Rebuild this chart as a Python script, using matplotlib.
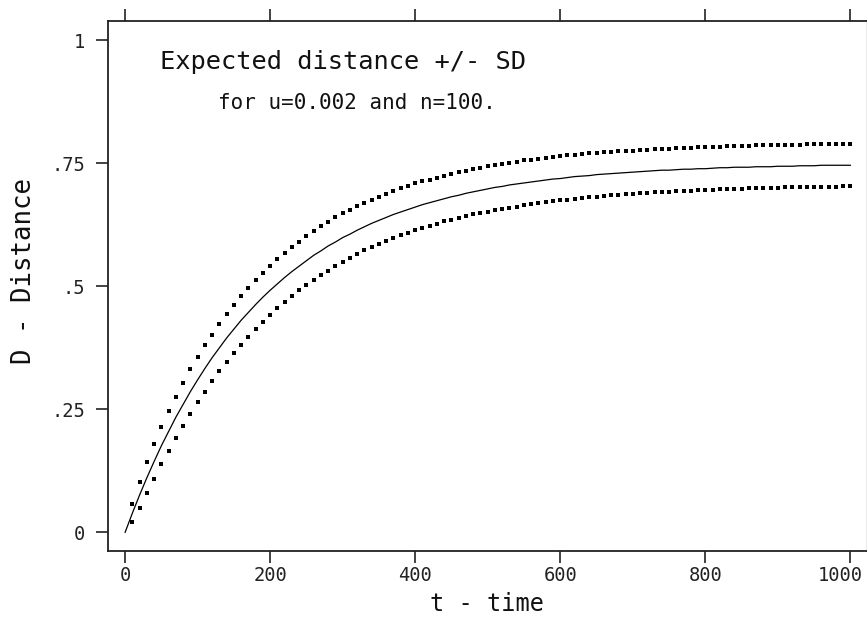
import matplotlib
matplotlib.use("Agg")
import matplotlib.pyplot as plt
import matplotlib.transforms as mtransforms

# ---- data ----
t_line = list(range(0, 1001, 10))
d_mean = [0.000,
          0.039, 0.076, 0.111, 0.144, 0.176, 0.205, 0.234, 0.260, 0.286, 0.310,
          0.333, 0.355, 0.375, 0.395, 0.413, 0.431, 0.447, 0.463, 0.478, 0.492,
          0.505, 0.518, 0.530, 0.541, 0.552, 0.563, 0.572, 0.582, 0.590, 0.599,
          0.606, 0.614, 0.621, 0.628, 0.634, 0.640, 0.646, 0.651, 0.656, 0.661,
          0.666, 0.670, 0.674, 0.678, 0.682, 0.685, 0.689, 0.692, 0.695, 0.698,
          0.701, 0.703, 0.706, 0.708, 0.710, 0.712, 0.714, 0.716, 0.718, 0.719,
          0.721, 0.723, 0.724, 0.725, 0.727, 0.728, 0.729, 0.730, 0.731, 0.732,
          0.733, 0.734, 0.735, 0.736, 0.736, 0.737, 0.738, 0.738, 0.739, 0.739,
          0.740, 0.741, 0.741, 0.742, 0.742, 0.742, 0.743, 0.743, 0.743, 0.744,
          0.744, 0.744, 0.745, 0.745, 0.745, 0.746, 0.746, 0.746, 0.746, 0.746]

t_dots = list(range(10, 1001, 10))
d_upper = [0.058, 0.102, 0.142, 0.179, 0.214, 0.246, 0.276, 0.304, 0.331, 0.356,
           0.380, 0.402, 0.424, 0.443, 0.462, 0.480, 0.497, 0.513, 0.528, 0.542,
           0.555, 0.568, 0.580, 0.591, 0.602, 0.612, 0.622, 0.631, 0.640, 0.648,
           0.655, 0.663, 0.670, 0.676, 0.682, 0.688, 0.694, 0.699, 0.704, 0.709,
           0.713, 0.717, 0.721, 0.725, 0.729, 0.732, 0.735, 0.738, 0.741, 0.744,
           0.746, 0.749, 0.751, 0.753, 0.756, 0.757, 0.759, 0.761, 0.763, 0.764,
           0.766, 0.767, 0.769, 0.770, 0.771, 0.772, 0.773, 0.774, 0.775, 0.776,
           0.777, 0.778, 0.779, 0.780, 0.780, 0.781, 0.782, 0.782, 0.783, 0.783,
           0.784, 0.784, 0.785, 0.785, 0.786, 0.786, 0.787, 0.787, 0.787, 0.788,
           0.788, 0.788, 0.788, 0.789, 0.789, 0.789, 0.789, 0.790, 0.790, 0.790]
d_lower = [0.020, 0.049, 0.080, 0.109, 0.138, 0.165, 0.191, 0.217, 0.241, 0.264,
           0.286, 0.307, 0.327, 0.346, 0.364, 0.381, 0.397, 0.413, 0.428, 0.442,
           0.455, 0.468, 0.480, 0.492, 0.503, 0.513, 0.523, 0.532, 0.541, 0.550,
           0.558, 0.565, 0.573, 0.579, 0.586, 0.592, 0.598, 0.604, 0.609, 0.614,
           0.619, 0.623, 0.627, 0.632, 0.635, 0.639, 0.643, 0.646, 0.649, 0.652,
           0.655, 0.658, 0.660, 0.662, 0.665, 0.667, 0.669, 0.671, 0.673, 0.675,
           0.676, 0.678, 0.679, 0.681, 0.682, 0.683, 0.685, 0.686, 0.687, 0.688,
           0.689, 0.690, 0.691, 0.691, 0.692, 0.693, 0.694, 0.694, 0.695, 0.696,
           0.696, 0.697, 0.697, 0.698, 0.698, 0.699, 0.699, 0.700, 0.700, 0.700,
           0.701, 0.701, 0.701, 0.701, 0.702, 0.702, 0.702, 0.702, 0.703, 0.703]

x_ticks = [0, 200, 400, 600, 800, 1000]
x_tick_labels = ["0", "200", "400", "600", "800", "1000"]
y_ticks = [0, 0.25, 0.5, 0.75, 1]
y_tick_labels = ["0", ".25", ".5", ".75", "1"]

title_text = "Expected distance +/- SD"
subtitle_text = "for u=0.002 and n=100."
x_label = "t - time"
y_label = "D - Distance"

# ---- figure ----
plt.rcParams["font.family"] = ["DejaVu Sans Mono", "DejaVu Sans"]
W, H = 867, 618
fig = plt.figure(figsize=(W / 100, H / 100), dpi=100)
left = 108.3 / W
bottom = (H - 551) / H
top = (H - 21.3) / H
ax = fig.add_axes([left, bottom, 1.0 - left, top - bottom])

ax.plot(t_line, d_mean, color="black", lw=0.9)
ax.plot(t_dots, d_upper, ls="none", marker="s", ms=2.3, mew=0, color="black")
ax.plot(t_dots, d_lower, ls="none", marker="s", ms=2.3, mew=0, color="black")

ax.set_xlim(-23.2, 1023)
ax.set_ylim(-0.038, 1.0386)

ax.set_xticks(x_ticks)
ax.set_xticklabels(x_tick_labels)
ax.set_yticks(y_ticks)
ax.set_yticklabels(y_tick_labels)
ax.tick_params(axis="x", which="both", direction="out", length=8.6, width=1.2,
               top=True, bottom=True, labeltop=False, labelsize=13.5, pad=2,
               colors="#222222")
ax.tick_params(axis="y", which="both", direction="out", length=8.6, width=1.2,
               left=True, right=False, labelsize=13.5, pad=8, colors="#222222")

# the last x label sits a little left of its tick so it stays inside the image
last_lbl = ax.xaxis.get_major_ticks()[-1].label1
last_lbl.set_transform(last_lbl.get_transform() +
                       mtransforms.ScaledTranslation(-10 / 100, 0, fig.dpi_scale_trans))

for side in ["left", "bottom", "top"]:
    ax.spines[side].set_linewidth(1.3)
    ax.spines[side].set_color("#222222")
ax.spines["right"].set_linewidth(1.0)
ax.spines["right"].set_color("#999999")

ax.text(48.3, 0.956, title_text, fontsize=18.3, ha="left", va="center",
        color="#111111")
ax.text(128, 0.872, subtitle_text, fontsize=15, ha="left", va="center",
        color="#111111")

fig.text(487.5 / W, 1 - 604 / H, x_label, fontsize=17, ha="center", va="center",
         color="#111111")
fig.text(24.5 / W, 1 - 271.5 / H, y_label, fontsize=18.5, rotation=90,
         ha="center", va="center", color="#111111")

fig.savefig("out.png", dpi=100)
